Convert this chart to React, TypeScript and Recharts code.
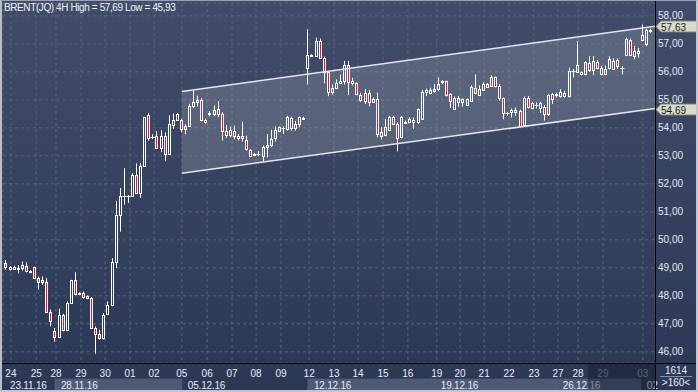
import React from "react";
import { ComposedChart, Bar, Area, XAxis, YAxis, CartesianGrid, ReferenceLine } from "recharts";

// 4H candles, 23.11.16 - 03.01.17
const opens = [
  49.16, 48.95, 49.02, 48.95, 48.99, 49.08, 48.84, 49.02, 48.63, 48.48,
  48.51, 47.42, 46.73, 46.52, 47.30, 46.79, 47.76, 48.55, 48.06, 48.10,
  47.98, 47.92, 46.85, 46.62, 46.48, 47.35, 47.66, 49.20, 50.88, 51.56,
  51.58, 51.56, 52.33, 51.68, 52.63, 54.45, 53.67, 53.72, 53.29, 53.72,
  53.05, 54.09, 54.27, 54.29, 53.95, 54.07, 54.78, 54.92, 55.00, 54.28,
  54.49, 54.50, 54.67, 54.50, 53.90, 53.76, 53.90, 53.72, 53.72, 53.58,
  53.21, 53.04, 53.06, 53.01, 53.33, 53.37, 53.63, 53.90, 53.98, 53.96,
  54.35, 53.98, 54.14, 54.33, 56.13, 56.60, 56.58, 57.10, 56.51, 56.01,
  55.27, 55.44, 55.60, 55.67, 56.23, 55.67, 55.60, 54.99, 55.24, 55.24,
  55.02, 55.02, 53.72, 53.75, 53.93, 54.37, 54.13, 53.66, 54.19, 54.22,
  54.29, 54.20, 54.31, 55.29, 55.24, 55.31, 55.38, 55.65, 55.66, 55.20,
  54.69, 54.91, 54.93, 54.81, 54.97, 55.44, 55.17, 55.36, 55.56, 55.50,
  55.80, 55.50, 55.05, 54.52, 54.55, 54.55, 54.61, 54.10, 55.05, 54.70,
  54.80, 54.70, 54.73, 54.49, 55.20, 55.19, 55.14, 55.26, 55.12, 56.02,
  55.99, 55.99, 55.91, 56.30, 56.07, 56.35, 56.15, 55.91, 56.15, 56.39,
  56.21, 56.13, 56.62, 57.14, 56.56, 56.66, 57.30, 56.98, 57.47,
];
const highs = [
  49.28, 49.06, 49.08, 49.10, 49.22, 49.20, 48.92, 49.04, 48.69, 48.69,
  48.63, 47.51, 46.85, 47.54, 47.35, 47.80, 48.57, 48.84, 48.12, 48.16,
  48.02, 47.96, 46.91, 46.79, 47.38, 47.80, 49.34, 51.39, 51.85, 52.56,
  51.60, 52.38, 52.73, 52.75, 54.39, 54.53, 53.77, 53.88, 53.92, 53.84,
  54.45, 54.51, 54.53, 54.33, 54.13, 54.86, 55.33, 55.15, 55.06, 54.33,
  54.60, 54.80, 54.96, 54.56, 54.10, 54.05, 54.08, 53.78, 54.22, 53.72,
  53.25, 53.10, 53.17, 53.37, 53.78, 53.93, 54.05, 54.05, 54.05, 54.43,
  54.40, 54.25, 54.41, 54.40, 57.52, 56.63, 57.22, 57.19, 56.55, 56.04,
  55.55, 55.73, 55.90, 56.39, 56.39, 55.79, 55.62, 55.26, 55.38, 55.35,
  55.08, 55.26, 54.02, 54.31, 54.43, 54.43, 54.20, 54.43, 54.26, 54.37,
  54.37, 54.69, 55.36, 55.40, 55.44, 55.56, 55.80, 55.70, 55.68, 55.24,
  55.12, 55.14, 55.05, 55.05, 55.52, 55.91, 55.52, 55.62, 55.60, 55.88,
  55.83, 55.56, 55.08, 54.56, 54.69, 54.73, 54.65, 55.12, 55.14, 54.93,
  54.91, 54.93, 54.81, 55.20, 55.24, 55.26, 55.38, 55.32, 56.15, 56.11,
  57.10, 56.02, 56.39, 56.56, 56.56, 56.42, 56.21, 56.23, 56.56, 56.48,
  56.48, 56.21, 57.22, 57.19, 56.92, 56.86, 57.69, 57.54, 57.54,
];
const lows = [
  48.93, 48.90, 48.92, 48.80, 48.90, 48.84, 48.81, 48.61, 48.22, 48.39,
  47.39, 46.91, 46.36, 46.50, 46.73, 46.76, 47.72, 48.02, 48.02, 47.90,
  47.88, 46.83, 45.93, 46.44, 46.44, 47.35, 47.63, 48.99, 50.29, 51.26,
  51.32, 51.53, 51.64, 51.50, 52.60, 53.54, 53.60, 53.25, 53.13, 52.81,
  53.05, 53.96, 54.25, 53.84, 53.77, 54.04, 54.70, 54.76, 54.23, 54.15,
  54.41, 54.42, 54.38, 53.55, 53.64, 53.66, 53.60, 53.55, 53.51, 53.19,
  52.95, 52.99, 52.99, 52.80, 52.95, 53.31, 53.51, 53.86, 53.78, 53.90,
  53.90, 53.90, 54.02, 54.28, 55.55, 56.53, 56.56, 56.47, 55.59, 55.13,
  55.18, 55.38, 55.56, 55.55, 55.17, 55.52, 55.17, 54.93, 54.85, 54.77,
  54.90, 53.66, 53.58, 53.70, 53.90, 54.10, 53.16, 53.63, 54.14, 54.17,
  53.96, 54.14, 54.29, 55.14, 55.20, 55.26, 55.32, 55.56, 55.12, 54.71,
  54.67, 54.76, 54.76, 54.79, 54.93, 55.20, 55.14, 55.32, 55.44, 55.47,
  55.44, 54.97, 54.31, 54.44, 54.37, 54.43, 54.05, 54.08, 54.69, 54.67,
  54.69, 54.53, 54.26, 54.43, 54.85, 55.08, 55.08, 55.08, 55.08, 55.80,
  55.97, 55.88, 55.88, 56.00, 55.88, 56.09, 55.88, 55.88, 56.09, 56.09,
  56.10, 55.91, 56.56, 56.56, 56.45, 56.51, 57.10, 56.92, 57.39,
];
const closes = [
  49.02, 49.02, 48.96, 49.00, 49.10, 48.87, 48.88, 48.63, 48.48, 48.58,
  47.42, 47.11, 46.52, 47.30, 46.77, 47.74, 48.55, 48.06, 48.10, 47.95,
  47.92, 46.85, 46.62, 46.48, 47.30, 47.66, 49.20, 50.88, 51.56, 51.58,
  51.55, 52.33, 51.68, 52.63, 54.37, 53.63, 53.69, 53.29, 53.72, 53.05,
  54.15, 54.27, 54.51, 53.95, 54.07, 54.78, 54.92, 54.98, 54.27, 54.20,
  54.53, 54.65, 54.50, 53.90, 53.74, 53.92, 53.72, 53.65, 53.63, 53.23,
  53.01, 53.05, 53.07, 53.31, 53.37, 53.60, 53.93, 54.02, 54.00, 54.37,
  53.98, 54.14, 54.37, 54.35, 56.60, 56.58, 57.10, 56.51, 56.01, 55.27,
  55.44, 55.61, 55.67, 56.23, 55.64, 55.60, 55.20, 55.16, 54.97, 54.93,
  54.91, 53.78, 53.84, 54.02, 54.37, 54.13, 53.63, 54.37, 54.21, 54.31,
  54.20, 54.66, 55.28, 55.36, 55.36, 55.40, 55.56, 55.66, 55.17, 54.97,
  55.06, 55.08, 55.03, 55.03, 55.46, 55.24, 55.40, 55.56, 55.47, 55.83,
  55.50, 55.05, 54.53, 54.53, 54.63, 54.65, 54.08, 55.05, 54.73, 54.88,
  54.82, 54.88, 54.49, 55.17, 55.03, 55.21, 55.29, 55.12, 56.03, 56.04,
  56.23, 55.91, 56.35, 56.07, 56.39, 56.15, 55.91, 56.11, 56.45, 56.11,
  56.42, 56.15, 57.16, 56.62, 56.74, 56.74, 57.13, 57.49, 57.50,
];

// day labels (position in candle index units)
const dayTicks = [
  1.2, 7.4, 12.25, 18.4, 24.3, 30.4, 36.3, 43.1, 49.3, 55.4, 61.3, 67.4, 74.3,
  80.4, 86.3, 92.4, 98.5, 105.6, 111.3, 117.2, 123.3, 129.4, 135.3, 140.2, 146.3, 156.1,
];
const dayLabels = [
  "24", "25", "28", "29", "30", "01", "02", "05", "06", "07", "08", "09", "12",
  "13", "14", "15", "16", "19", "20", "21", "22", "23", "27", "28", "29", "03",
];

// week band (second row of the time axis)
const weekStarts = [-0.73, 12.0, 43.1, 74.0, 105.1, 135.0, 155.6];
const weekLabels = ["23.11.16", "28.11.16", "05.12.16", "12.12.16", "19.12.16", "26.12.16", "02"];
const weekLight = [false, true, false, true, true, true, false];

// price channel
const channelX = [43.1, 159.07];
const channelUpper = [55.30, 57.63];
const channelLower = [52.38, 54.69];

const priceTicks = [46, 47, 48, 49, 50, 51, 52, 53, 54, 55, 56, 57, 58];

const X_DOMAIN: [number, number] = [-0.735, 159.07];
const Y_DOMAIN: [number, number] = [45.6, 58.46];
const PLOT_LEFT = 3;
const PLOT_RIGHT = 655;
const PX_PER_IDX = (PLOT_RIGHT - PLOT_LEFT) / (X_DOMAIN[1] - X_DOMAIN[0]);

const FONT = "'Liberation Sans', Arial, sans-serif";

const candles = opens.map((o, i) => ({
  i,
  open: o,
  high: highs[i],
  low: lows[i],
  close: closes[i],
}));

const channel = channelX.map((x, k) => ({ i: x, lower: channelLower[k], upper: channelUpper[k] }));

const fmt = (v: number) => v.toFixed(2).replace(".", ",");

const Candle = (props: any) => {
  const { x, y, width, height, payload } = props;
  if (!payload) return null;
  const { open, high, low, close } = payload;
  const top = Math.min(y, y + height);
  const h = Math.abs(height);
  const ppu = h / (high - low);
  const cx = Math.floor(x + width / 2) + 0.5;
  const yOf = (v: number) => top + (high - v) * ppu;
  const bTop = Math.round(yOf(Math.max(open, close))) + 0.5;
  const bBot = Math.round(yOf(Math.min(open, close))) + 0.5;
  const bear = close < open;
  return (
    <g>
      <line x1={cx} x2={cx} y1={top} y2={bTop} stroke="#ffffff" strokeWidth={1} />
      <line x1={cx} x2={cx} y1={bBot} y2={top + h} stroke="#ffffff" strokeWidth={1} />
      {bBot - bTop < 1 ? (
        <line x1={cx - 2} x2={cx + 2} y1={bTop} y2={bTop} stroke="#ffffff" strokeWidth={1} />
      ) : (
        <rect
          x={cx - 1}
          y={bTop}
          width={2}
          height={bBot - bTop}
          fill={bear ? "#e3173e" : "none"}
          stroke="#ffffff"
          strokeWidth={1}
        />
      )}
    </g>
  );
};

const DayTick = (props: any) => {
  const { x, y, payload } = props;
  const k = dayTicks.indexOf(payload.value);
  const dim = x > 588;
  return (
    <text x={x} y={y + 12} textAnchor="middle" fill={dim ? "#8f99ad" : "#e8ecf4"} fontSize={10} fontFamily={FONT}>
      {k >= 0 ? dayLabels[k] : ""}
    </text>
  );
};

const WeekTick = (props: any) => {
  const { x, y, payload } = props;
  const k = weekStarts.indexOf(payload.value);
  if (k < 0) return null;
  const end = k + 1 < weekStarts.length ? weekStarts[k + 1] : X_DOMAIN[1];
  const w = (end - weekStarts[k]) * PX_PER_IDX;
  return (
    <g>
      {weekLight[k] && <rect x={x} y={y} width={w} height={13} fill="#4c5977" stroke="#5b6885" strokeWidth={0.5} />}
      <text x={x + (k === 0 ? 7 : 6)} y={y + 10} fill="#e8ecf4" fontSize={10} fontFamily={FONT} letterSpacing={-0.2}>
        {weekLabels[k]}
      </text>
    </g>
  );
};

const PriceTick = (props: any) => {
  const { x, y, payload } = props;
  return (
    <text x={x} y={y + 3.5} fill="#e2e8f5" fontSize={10} fontFamily={FONT}>
      {fmt(payload.value)}
    </text>
  );
};

const PriceTag = (props: any) => {
  const { viewBox, text } = props;
  if (!viewBox) return null;
  const xr = viewBox.x + viewBox.width;
  const yc = Math.round(viewBox.y) + 0.5;
  const pts = `${xr + 1},${yc} ${xr + 6},${yc - 5.5} ${xr + 43},${yc - 5.5} ${xr + 43},${yc + 5.5} ${xr + 6},${yc + 5.5}`;
  return (
    <g>
      <polygon points={pts} fill="#d9dcc6" stroke="#80837a" strokeWidth={1} />
      <text x={xr + 6} y={yc + 4} fill="#1b1d24" fontSize={10} fontFamily={FONT}>
        {text}
      </text>
    </g>
  );
};

export default function App() {
  return (
    <div
      style={{
        position: "absolute",
        left: 0,
        top: 0,
        width: 698,
        height: 392,
        overflow: "hidden",
        background: "linear-gradient(to bottom, #404c6a 0%, #35425f 55%, #2b3855 100%)",
      }}
    >
      <ComposedChart
        width={698}
        height={392}
        data={candles}
        margin={{ top: 3, right: 0, bottom: 2, left: 3 }}
      >
        <CartesianGrid xAxisId="day" stroke="#58647f" strokeDasharray="3 3" />
        <XAxis
          xAxisId="day"
          dataKey="i"
          type="number"
          domain={X_DOMAIN}
          allowDataOverflow
          ticks={dayTicks}
          interval={0}
          height={14}
          tickSize={0}
          axisLine={false}
          tickLine={false}
          tick={<DayTick />}
        />
        <XAxis
          xAxisId="week"
          dataKey="i"
          type="number"
          domain={X_DOMAIN}
          allowDataOverflow
          ticks={weekStarts}
          interval={0}
          height={13}
          tickSize={0}
          axisLine={false}
          tickLine={false}
          tick={<WeekTick />}
        />
        <YAxis
          orientation="right"
          domain={Y_DOMAIN}
          allowDataOverflow
          ticks={priceTicks}
          interval={0}
          width={43}
          tickSize={0}
          tickMargin={3}
          axisLine={false}
          tickLine={false}
          tick={<PriceTick />}
        />
        <Area
          xAxisId="day"
          data={channel}
          dataKey={(d: any) => [d.lower, d.upper]}
          type="linear"
          stroke="none"
          fill="#ffffff"
          fillOpacity={0.15}
          isAnimationActive={false}
        />
        <Bar
          xAxisId="day"
          dataKey={(d: any) => [d.low, d.high]}
          barSize={3}
          shape={<Candle />}
          isAnimationActive={false}
        />
        <ReferenceLine
          xAxisId="day"
          segment={[
            { x: channelX[0], y: channelUpper[0] },
            { x: channelX[1], y: channelUpper[1] },
          ]}
          stroke="#e4e6ea"
          strokeWidth={1.5}
        />
        <ReferenceLine
          xAxisId="day"
          segment={[
            { x: channelX[0], y: channelLower[0] },
            { x: channelX[1], y: channelLower[1] },
          ]}
          stroke="#e4e6ea"
          strokeWidth={1.5}
        />
        <ReferenceLine xAxisId="day" y={channelUpper[1]} stroke="none" label={<PriceTag text={fmt(channelUpper[1])} />} />
        <ReferenceLine xAxisId="day" y={channelLower[1]} stroke="none" label={<PriceTag text={fmt(channelLower[1])} />} />
      </ComposedChart>

      {/* title */}
      <div
        style={{
          position: "absolute",
          left: 4,
          top: 2,
          fontFamily: FONT,
          fontSize: 10,
          letterSpacing: -0.4,
          color: "#f2f3f6",
          whiteSpace: "nowrap",
          lineHeight: "12px",
        }}
      >
        BRENT(JQ) 4H High = 57,69 Low = 45,93
      </div>

      {/* dimmed part of the time axis */}
      <div style={{ position: "absolute", left: 588, top: 364, width: 67, height: 26, background: "rgba(20,28,46,0.45)" }} />

      {/* separators */}
      <div style={{ position: "absolute", left: 655, top: 0, width: 1, height: 392, background: "#000" }} />
      <div style={{ position: "absolute", left: 0, top: 363, width: 698, height: 1, background: "#000" }} />

      {/* corner box */}
      <div
        style={{
          position: "absolute",
          left: 656,
          top: 365,
          width: 40,
          height: 25,
          fontFamily: FONT,
          fontSize: 10,
          color: "#e8ecf4",
          textAlign: "center",
        }}
      >
        <div style={{ height: 11, lineHeight: "11px", borderBottom: "1px solid #8a93a8", margin: "0 4px" }}>1614</div>
        <div style={{ height: 12, lineHeight: "12px" }}>&gt;160&lt;</div>
      </div>

      {/* outer frame */}
      <div
        style={{
          position: "absolute",
          left: 0,
          top: 0,
          width: 698,
          height: 392,
          boxSizing: "border-box",
          borderTop: "1px solid #9ca2ad",
          borderLeft: "2px solid #b9bec8",
          borderRight: "2px solid #c3c6cc",
          borderBottom: "2px solid #c3c6cc",
          pointerEvents: "none",
        }}
      />
    </div>
  );
}
